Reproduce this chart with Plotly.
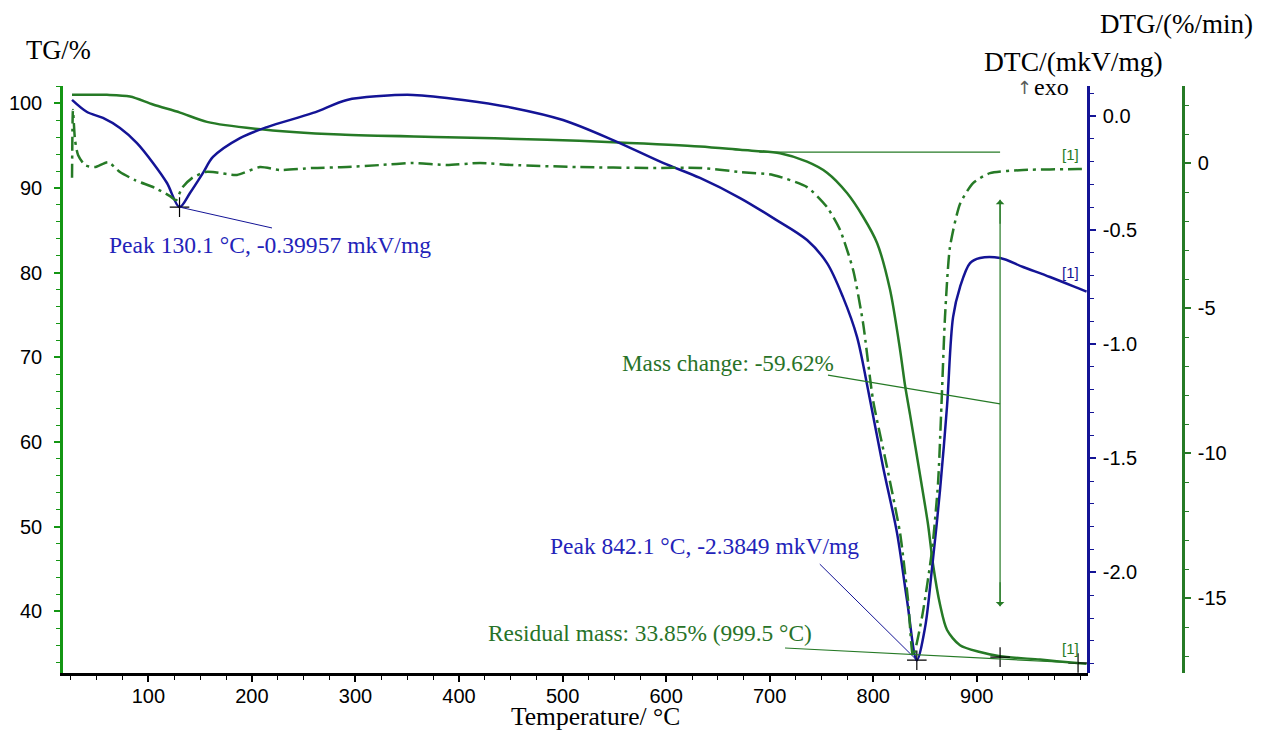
import plotly.graph_objects as go

# ---------------- data ----------------
temp_tg = [26.3, 40.8, 60.0, 82.3, 104.5, 130.6, 156.6, 203.0, 285.1, 388.4, 485.0, 548.7,
           632.7, 671.4, 710.0, 736.1, 755.4, 774.7, 790.2, 803.7, 816.2, 825.9, 830.7,
           835.6, 845.2, 853.0, 857.8, 864.5, 871.3, 883.8, 903.1, 922.5, 961.1, 996.8, 1006.0]
tg = [101.0, 101.0, 101.0, 100.8, 99.85, 98.9, 97.8, 97.0, 96.3, 96.0, 95.7, 95.4,
      94.9, 94.5, 94.1, 93.1, 91.8, 89.4, 86.6, 83.5, 78.0, 70.9, 66.7,
      63.2, 56.1, 50.2, 45.5, 40.8, 37.8, 36.0, 35.2, 34.7, 34.3, 33.9, 33.8]

temp_dta = [26.3, 40.8, 56.2, 72.6, 89.0, 104.5, 118.0, 130.1, 140.2, 152.8, 162.4, 188.5,
            214.6, 259.0, 291.8, 323.7, 355.6, 403.9, 452.2, 500.4, 548.7, 597.0, 632.7,
            671.4, 703.2, 736.1, 755.4, 770.8, 784.4, 795.0, 809.5, 823.0, 832.6, 842.1,
            850.1, 856.8, 864.5, 871.3, 877.1, 883.8, 893.5, 903.1, 922.5, 944.7, 970.7,
            997.8, 1006.0]
dta = [0.070, 0.017, -0.009, -0.053, -0.119, -0.206, -0.294, -0.3996, -0.338, -0.25, -0.18, -0.097,
       -0.049, 0.013, 0.07, 0.087, 0.092, 0.07, 0.035, -0.018, -0.106, -0.206, -0.272,
       -0.36, -0.447, -0.544, -0.645, -0.794, -0.969, -1.2, -1.538, -1.828, -2.121, -2.3849,
       -2.24, -1.98, -1.64, -1.27, -0.882, -0.75, -0.645, -0.623, -0.623, -0.662, -0.706,
       -0.755, -0.77]

temp_dtg = [26.3, 27.2, 29.2, 32.1, 38.8, 48.5, 61.0, 72.6, 87.1, 106.4, 120.9, 126.7, 132.5,
            142.1, 154.7, 162.4, 185.6, 207.8, 227.1, 259.0, 291.8, 323.7, 355.6, 388.4,
            420.3, 452.2, 517.0, 581.7, 632.7, 671.4, 703.2, 736.1, 755.4, 768.0, 780.6,
            790.2, 799.8, 813.3, 825.9, 833.6, 838.5, 847.1, 856.8, 862.6, 865.9, 869.3,
            874.1, 883.8, 896.4, 912.7, 944.7, 997.8, 1006.0]
dtg = [-0.5, 1.84, 0.8, 0.29, -0.06, -0.13, 0.04, -0.3, -0.58, -0.85, -1.13, -1.27, -0.85,
       -0.51, -0.3, -0.3, -0.4, -0.13, -0.23, -0.16, -0.13, -0.06, 0.01, -0.06,
       0.01, -0.06, -0.13, -0.16, -0.16, -0.3, -0.4, -0.82, -1.51, -2.3, -3.68,
       -5.51, -8.16, -10.47, -12.75, -15.06, -17.0, -15.65, -13.34, -11.03, -8.33, -5.3,
       -2.89, -1.4, -0.68, -0.34, -0.23, -0.2, -0.2]

x_ticks = [100, 200, 300, 400, 500, 600, 700, 800, 900]
tg_ticks = [40, 50, 60, 70, 80, 90, 100]
dta_ticks = [0.0, -0.5, -1.0, -1.5, -2.0]
dta_ticktext = ["0.0", "-0.5", "-1.0", "-1.5", "-2.0"]
dtg_ticks = [0, -5, -10, -15]
dtg_ticktext = ["0", "-5", "-10", "-15"]

peak1 = (130.1, -0.39957)
peak2 = (842.1, -2.3849)
residual = (999.5, 33.85)
mass_change_T = 922.5
mass_top, mass_bottom = 88.6, 40.6

# ---------------- styling ----------------
# page body has an 8px default margin: the figure is shifted by (8, 8)
OFF = 8
W, H = 1269 - 2 * OFF, 740 - 2 * OFF
PL, PR, PT, PB = 63, 1183, 86, 673          # plot area in window pixels
ML, MT = PL - OFF, PT - OFF
MR, MB = W - (PR - OFF), H - (PB - OFF)
PW, PH = PR - PL, PB - PT
X_END = (1088 - PL) / PW

GREEN = "rgb(38,122,38)"
GREEN_AX = "rgb(20,150,20)"
GREEN_TXT = "rgb(40,115,40)"
BLUE = "rgb(20,20,150)"
BLUE_TXT = "rgb(35,35,185)"
SERIF = "Liberation Serif, Times New Roman, serif"
SANS = "Liberation Sans, Arial, sans-serif"


def px(xp):
    return (xp - PL) / PW


def py(yp):
    return (PB - yp) / PH


def label(xp, yp, text, size, color, family=SERIF):
    return dict(x=px(xp), y=py(yp), xref="paper", yref="paper", showarrow=False,
                xanchor="center", yanchor="middle", text=text,
                font=dict(family=family, size=size, color=color))


fig = go.Figure()

fig.add_trace(go.Scatter(x=temp_tg, y=tg, mode="lines", yaxis="y",
                         line=dict(color=GREEN, width=2.5, shape="spline", smoothing=0.8),
                         showlegend=False, hoverinfo="skip"))
fig.add_trace(go.Scatter(x=temp_dtg, y=dtg, mode="lines", yaxis="y3",
                         line=dict(color=GREEN, width=2.5, dash="14px,5px,3px,5px",
                                   shape="spline", smoothing=0.6),
                         showlegend=False, hoverinfo="skip"))
fig.add_trace(go.Scatter(x=temp_dta, y=dta, mode="lines", yaxis="y2",
                         line=dict(color=BLUE, width=2.5, shape="spline", smoothing=0.9),
                         showlegend=False, hoverinfo="skip"))

# peak markers (DTA axis)
fig.add_trace(go.Scatter(x=[peak1[0], peak2[0]], y=[peak1[1], peak2[1]], mode="markers", yaxis="y2",
                         marker=dict(symbol="cross-thin", size=14, line=dict(width=1.2, color="black")),
                         showlegend=False, hoverinfo="skip"))
# residual-mass markers (TG axis)
fig.add_trace(go.Scatter(x=[mass_change_T, residual[0] - 1.7], y=[34.6, 33.9], mode="markers", yaxis="y",
                         marker=dict(symbol="cross-thin", size=14, line=dict(width=1.2, color="black")),
                         showlegend=False, hoverinfo="skip"))

shapes = [
    dict(type="line", xref="x", yref="y2", x0=peak1[0], y0=peak1[1], x1=219.4, y1=-0.491,
         line=dict(color=BLUE, width=1)),
    dict(type="line", xref="x", yref="y2", x0=peak2[0], y0=peak2[1], x1=748.4, y1=-1.964,
         line=dict(color=BLUE, width=1)),
    dict(type="line", xref="x", yref="y", x0=690, y0=94.24, x1=mass_change_T, y1=94.24,
         line=dict(color=GREEN, width=1.2)),
    dict(type="line", xref="x", yref="y", x0=756.3, y0=67.9, x1=mass_change_T, y1=64.5,
         line=dict(color=GREEN, width=1.2)),
    dict(type="line", xref="x", yref="y", x0=mass_change_T, y0=mass_top, x1=mass_change_T, y1=mass_bottom,
         line=dict(color=GREEN, width=1.2)),
    dict(type="line", xref="x", yref="y", x0=714.8, y0=35.67, x1=residual[0] - 1.7, y1=33.9,
         line=dict(color=GREEN, width=1.2)),
]

annotations = [
    dict(x=mass_change_T, y=mass_top, xref="x", yref="y", ax=mass_change_T, ay=mass_top - 3,
         axref="x", ayref="y", showarrow=True, arrowhead=1, arrowsize=1.2, arrowwidth=1.2,
         arrowcolor=GREEN, text=""),
    dict(x=mass_change_T, y=mass_bottom, xref="x", yref="y", ax=mass_change_T, ay=mass_bottom + 3,
         axref="x", ayref="y", showarrow=True, arrowhead=1, arrowsize=1.2, arrowwidth=1.2,
         arrowcolor=GREEN, text=""),
    label(270, 245, "Peak 130.1 °C, -0.39957 mkV/mg", 23.6, BLUE_TXT),
    label(704, 546, "Peak 842.1 °C, -2.3849 mkV/mg", 23.5, BLUE_TXT),
    label(728, 363, "Mass change: -59.62%", 23.2, GREEN_TXT),
    label(650, 633, "Residual mass: 33.85% (999.5 °C)", 23.4, GREEN_TXT),
    label(1070, 154, "[1]", 15, GREEN, SANS),
    label(1070, 272, "[1]", 15, BLUE, SANS),
    label(1070, 648, "[1]", 15, GREEN, SANS),
    label(58, 50, "TG/%", 26.5, "black"),
    label(1176, 24, "DTG/(%/min)", 27, "black"),
    label(1073, 61, "DTC/(mkV/mg)", 27.5, "black"),
    label(1025, 87, "↑", 18, "rgb(90,90,90)", "DejaVu Sans, sans-serif"),
    label(1051, 87, "exo", 24, "black"),
    label(595, 716, "Temperature/ °C", 25.5, "black"),
]

fig.update_layout(
    width=W, height=H,
    margin=dict(l=ML, r=MR, t=MT, b=MB, autoexpand=False),
    paper_bgcolor="white", plot_bgcolor="white",
    showlegend=False,
    shapes=shapes, annotations=annotations,
    xaxis=dict(domain=[0, X_END], range=[17.58, 1007.4], showgrid=False, zeroline=False,
               showline=True, linecolor="black", linewidth=2.5,
               tickvals=x_ticks, ticks="outside", ticklen=6, tickwidth=1.5, tickcolor="black",
               minor=dict(dtick=25, tick0=0, ticks="outside", ticklen=4, tickcolor="black", tickwidth=1.2),
               ticklabelstandoff=-3,
               tickfont=dict(family=SANS, size=20, color="black")),
    yaxis=dict(range=[32.72, 102.04], showgrid=False, zeroline=False,
               showline=True, linecolor=GREEN_AX, linewidth=2.5,
               tickvals=tg_ticks, ticks="outside", ticklen=6, tickwidth=1.5, tickcolor=GREEN_AX,
               minor=dict(dtick=2, tick0=0, ticks="outside", ticklen=4, tickcolor=GREEN_AX, tickwidth=1.2),
               ticklabelstandoff=8,
               tickfont=dict(family=SANS, size=20, color="black")),
    yaxis2=dict(range=[-2.441, 0.131], overlaying="y", anchor="free", position=X_END, side="right",
                showgrid=False, zeroline=False, showline=True, linecolor=BLUE, linewidth=2.5,
                tickvals=dta_ticks, ticktext=dta_ticktext, ticks="outside", ticklen=6, tickwidth=1.5,
                tickcolor=BLUE,
                minor=dict(dtick=0.1, tick0=0, ticks="outside", ticklen=4, tickcolor=BLUE, tickwidth=1.2),
                ticklabelstandoff=3,
                tickfont=dict(family=SANS, size=20, color="black")),
    yaxis3=dict(range=[-17.576, 2.666], overlaying="y", anchor="free", position=1.0, side="right",
                showgrid=False, zeroline=False, showline=True, linecolor=GREEN, linewidth=2.5,
                tickvals=dtg_ticks, ticktext=dtg_ticktext, ticks="outside", ticklen=6, tickwidth=1.5,
                tickcolor=GREEN,
                minor=dict(dtick=1, tick0=0, ticks="outside", ticklen=4, tickcolor=GREEN, tickwidth=1.2),
                ticklabelstandoff=3,
                tickfont=dict(family=SANS, size=20, color="black")),
)

fig.write_html("out.html")
